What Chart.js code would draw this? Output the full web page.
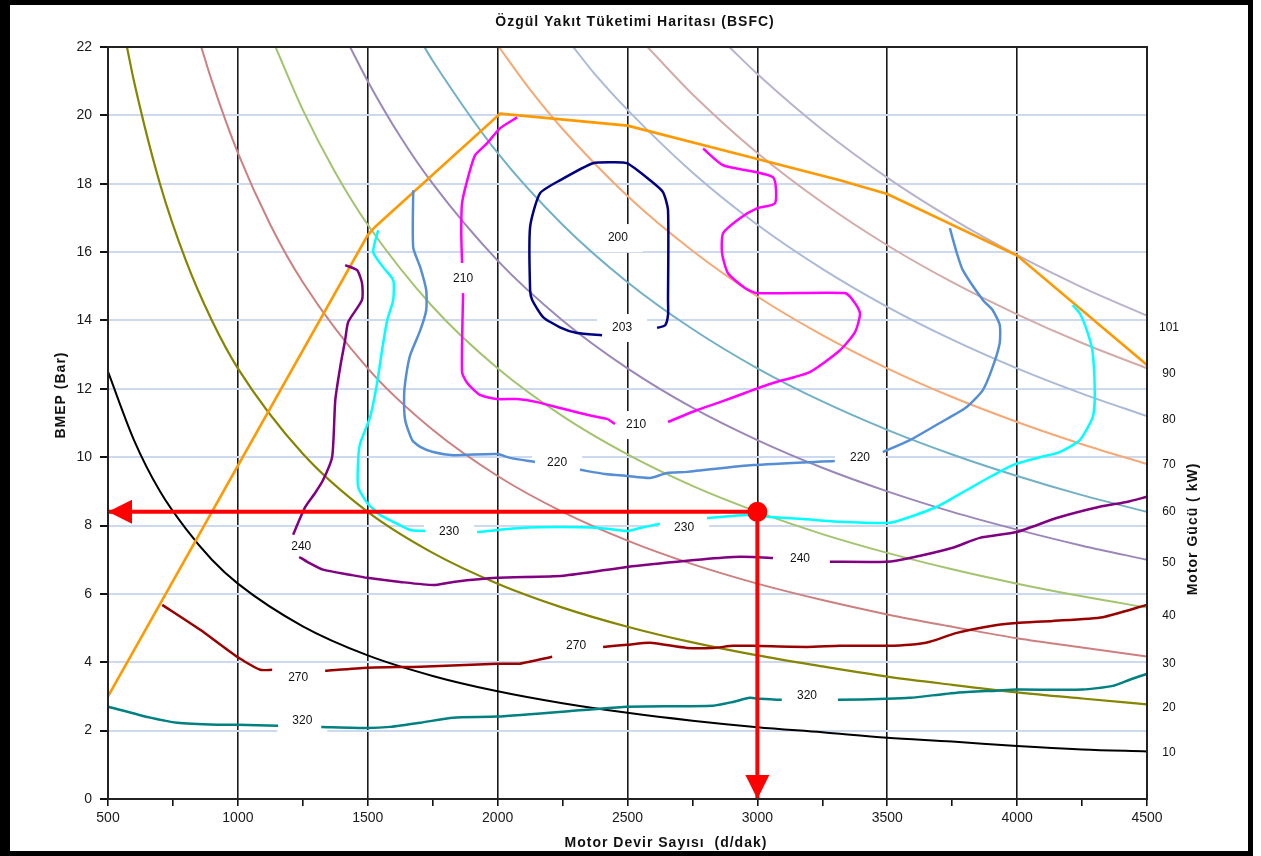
<!DOCTYPE html>
<html>
<head>
<meta charset="utf-8">
<script src="https://cdn.jsdelivr.net/npm/chart.js@4.4.1/dist/chart.umd.min.js"></script>
<style>
  html, body { margin: 0; padding: 0; background: #fff; }
  #frame { position: absolute; left: 0; top: 0; width: 1238px; height: 846px;
           border-style: solid; border-color: #000; border-width: 5px 5px 5px 10px; background: #fff; }
  canvas { display: block; }
</style>
</head>
<body>
<div id="frame"><canvas id="c" width="1238" height="846"></canvas></div>
<script>
// ---------- texts ----------
const chartTitle = 'Özgül Yakıt Tüketimi Haritası (BSFC)';
const xTitle = 'Motor Devir Sayısı  (d/dak)';
const yTitle = 'BMEP (Bar)';
const rightTitle = 'Motor Gücü ( kW)';

// ---------- iso-power curves: [rpm, BMEP bar] ----------
const kw10  = [[500,12.5],[600,10.5],[700,9.0],[800,7.9],[900,7.0],[1000,6.3],[1250,5.05],[1500,4.2],[1750,3.6],[2000,3.15],[2250,2.8],[2500,2.52],[2750,2.29],[3000,2.1],[3250,1.95],[3500,1.79],[3750,1.68],[4000,1.55],[4250,1.45],[4500,1.39]];
const kw20  = [[573,22],[600,21.0],[700,18.0],[800,15.75],[900,14.0],[1000,12.6],[1250,10.1],[1500,8.4],[1750,7.2],[2000,6.3],[2250,5.6],[2500,5.04],[2750,4.58],[3000,4.2],[3250,3.88],[3500,3.58],[3750,3.34],[4000,3.12],[4250,2.94],[4500,2.77]];
const kw30  = [[859,22],[900,21.0],[1000,18.9],[1125,16.8],[1250,15.12],[1500,12.6],[1750,10.8],[2000,9.45],[2250,8.4],[2500,7.56],[2750,6.87],[3000,6.3],[3250,5.82],[3500,5.4],[3750,5.04],[4000,4.7],[4250,4.43],[4500,4.17]];
const kw40  = [[1145,22],[1250,20.16],[1375,18.33],[1500,16.8],[1750,14.4],[2000,12.6],[2250,11.2],[2500,10.08],[2750,9.16],[3000,8.4],[3250,7.75],[3500,7.2],[3750,6.72],[4000,6.3],[4250,5.93],[4500,5.6]];
const kw50  = [[1432,22],[1500,21.0],[1625,19.38],[1750,18.0],[2000,15.75],[2250,14.0],[2500,12.6],[2750,11.45],[3000,10.5],[3250,9.69],[3500,9.0],[3750,8.4],[4000,7.88],[4250,7.41],[4500,7.0]];
const kw60  = [[1718,22],[1750,21.6],[2000,18.9],[2250,16.8],[2500,15.12],[2750,13.75],[3000,12.6],[3250,11.63],[3500,10.8],[3750,10.08],[4000,9.45],[4250,8.89],[4500,8.4]];
const kw70  = [[2005,22],[2125,20.75],[2250,19.6],[2500,17.64],[2750,16.04],[3000,14.7],[3250,13.57],[3500,12.6],[3750,11.76],[4000,11.03],[4250,10.38],[4500,9.8]];
const kw80  = [[2291,22],[2375,21.2],[2500,20.16],[2750,18.33],[3000,16.8],[3250,15.51],[3500,14.4],[3750,13.44],[4000,12.6],[4250,11.86],[4500,11.2]];
const kw90  = [[2577,22],[2750,20.62],[3000,18.9],[3250,17.45],[3500,16.2],[3750,15.12],[4000,14.18],[4250,13.34],[4500,12.6]];
const kw101 = [[2892,22],[3000,21.21],[3250,19.58],[3500,18.18],[3750,16.97],[4000,15.91],[4250,14.97],[4500,14.14]];

// right-hand power labels (kW) and the BMEP level where each is written
const powerLabels = ['10','20','30','40','50','60','70','80','90','101'];
const powerLabelY = [1.35, 2.67, 3.96, 5.36, 6.91, 8.4, 9.77, 11.09, 12.45, 13.78];

// ---------- full-load curve ----------
const fullLoad = [[500,3.0],[1500,16.5],[1530,16.75],[2010,20.05],[2500,19.7],[2970,18.78],[3318,18.1],[3500,17.7],[4000,15.9],[4500,12.7]];

// ---------- BSFC contours (g/kWh): segments split where labels sit ----------
const bsfc200 = [
  [[2402,13.57],[2306,13.63],[2240,13.8],[2175,14.1],[2133,14.6],[2125,14.9],[2125,16.73],[2163,17.72],[2240,18.1],[2367,18.6],[2440,18.63],[2498,18.6],[2587,18.1],[2637,17.75],[2656,17.22],[2656,14.6],[2656,14.16],[2645,13.86],[2614,13.78]]
];
const bsfc210 = [
  [[2075,19.94],[2009,19.62],[1959,19.18],[1913,18.83],[1883,18.1],[1863,17.43],[1860,16.55],[1863,15.68]],
  [[1867,14.8],[1863,12.49],[1883,12.17],[1932,11.82],[1998,11.7],[2075,11.7],[2152,11.61],[2240,11.44],[2344,11.24],[2421,11.12],[2452,10.97]],
  [[2656,11.03],[2768,11.38],[2856,11.61],[2960,11.9],[3060,12.17],[3202,12.49],[3318,13.13],[3376,13.66],[3395,14.21],[3367,14.6],[3337,14.8],[2998,14.8],[2952,14.95],[2887,15.38],[2864,15.97],[2868,16.55],[2933,16.99],[2998,17.28],[3068,17.43],[3060,18.19],[2868,18.54],[2791,19.03]]
];
const bsfc220 = [
  [[1675,17.81],[1675,16.14],[1702,15.56],[1725,14.89],[1725,14.3],[1702,13.71],[1663,12.98],[1648,12.4],[1640,11.82],[1644,11.09],[1671,10.5],[1702,10.3],[1752,10.15],[1829,10.06],[1998,10.09],[2048,9.98],[2144,9.86]],
  [[2317,9.63],[2413,9.51],[2498,9.45],[2587,9.39],[2652,9.54],[2729,9.57],[2983,9.77],[3298,9.89]],
  [[3483,10.15],[3587,10.5],[3702,11.0],[3806,11.47],[3868,11.96],[3906,12.64],[3933,13.34],[3933,13.87],[3906,14.3],[3868,14.6],[3791,15.47],[3768,15.97],[3741,16.7]]
];
const bsfc230 = [
  [[1540,16.64],[1521,16.0],[1559,15.56],[1598,15.18],[1598,14.6],[1575,14.01],[1555,13.13],[1536,12.17],[1509,11.17],[1471,10.41],[1463,9.92],[1463,9.13],[1498,8.66],[1548,8.31],[1598,8.11],[1663,7.87],[1721,7.84]],
  [[1921,7.81],[2086,7.93],[2240,7.96],[2394,7.93],[2498,7.84],[2548,7.93],[2625,8.05]],
  [[2806,8.22],[2960,8.31],[3048,8.25],[3175,8.19],[3318,8.11],[3510,8.08],[3575,8.22],[3691,8.55],[3806,9.04],[3895,9.42],[3983,9.77],[4087,10.0],[4164,10.15],[4241,10.5],[4291,11.17],[4299,11.76],[4291,13.05],[4272,13.63],[4241,14.21],[4214,14.45]]
];
const bsfc240 = [
  [[1413,15.62],[1459,15.47],[1478,15.09],[1478,14.6],[1425,13.96],[1413,13.43],[1394,12.64],[1375,11.67],[1363,10.01],[1328,9.33],[1298,8.96],[1259,8.54],[1232,8.08],[1213,7.73]],
  [[1236,7.08],[1267,6.94],[1328,6.71],[1432,6.56],[1498,6.47],[1625,6.35],[1752,6.26],[1829,6.35],[1998,6.47],[2252,6.53],[2498,6.79],[2729,6.97],[2906,7.08],[2983,7.08],[3060,7.05]],
  [[3279,6.94],[3498,6.94],[3587,7.05],[3752,7.35],[3856,7.64],[3998,7.81],[4152,8.22],[4318,8.55],[4422,8.69],[4499,8.84]]
];
const bsfc270 = [
  [[709,5.68],[855,4.95],[997,4.16],[1086,3.78],[1132,3.78]],
  [[1336,3.75],[1498,3.84],[1702,3.87],[1998,3.96],[2086,3.96],[2210,4.16]],
  [[2406,4.45],[2498,4.51],[2587,4.57],[2729,4.42],[2829,4.42],[2906,4.48],[2983,4.48],[3191,4.45],[3318,4.48],[3498,4.48],[3587,4.51],[3664,4.6],[3768,4.86],[3922,5.09],[3998,5.15],[4137,5.21],[4330,5.32],[4499,5.68]]
];
const bsfc320 = [
  [[501,2.7],[663,2.38],[767,2.23],[921,2.17],[998,2.17],[1155,2.14]],
  [[1321,2.11],[1498,2.08],[1586,2.11],[1702,2.23],[1829,2.38],[1998,2.41],[2344,2.61],[2498,2.7],[2829,2.73],[2906,2.84],[2971,2.96],[3010,2.93],[3094,2.9]],
  [[3310,2.9],[3498,2.93],[3587,2.96],[3768,3.11],[3922,3.17],[3998,3.2],[4252,3.2],[4368,3.31],[4433,3.49],[4499,3.66]]
];

// contour labels and where they are written (rpm, bar)
const contourLabels = ['200','203','210','210','220','220','230','230','240','240','270','270','320','320'];
const contourLabelX = [2463,2479,1867,2533,2229,3395,1813,2718,1244,3164,1232,2302,1248,3191];
const contourLabelY = [16.41,13.78,15.21,10.94,9.83,9.98,7.81,7.93,7.37,7.02,3.55,4.48,2.29,3.02];

// operating point marked by the red arrows
const opSpeed = 3000;
const opBmep = 8.4;

// ---------- helpers ----------
const pts = arr => arr.map(p => ({x: p[0], y: p[1]}));
function joinSegments(segs) {
  const out = [];
  segs.forEach((s, k) => {
    if (k > 0) out.push({x: s[0][0], y: null});
    s.forEach(p => out.push({x: p[0], y: p[1]}));
  });
  return out;
}
const FONT = "'Liberation Sans', Arial, sans-serif";

function powerDs(data, color, w) {
  return { data: pts(data), borderColor: color, borderWidth: w || 2, pointRadius: 0,
           cubicInterpolationMode: 'monotone', order: 4 };
}
function contourDs(segs, color) {
  return { data: joinSegments(segs), borderColor: color, borderWidth: 2.5, pointRadius: 0,
           tension: 0.2, spanGaps: false, order: 2 };
}

const datasets = [
  powerDs(kw10, '#000000', 2),
  powerDs(kw20, '#858500', 2.2),
  powerDs(kw30, '#CD8080'),
  powerDs(kw40, '#A3C46E'),
  powerDs(kw50, '#9B87B9'),
  powerDs(kw60, '#72B0C6'),
  powerDs(kw70, '#F6A875'),
  powerDs(kw80, '#AABAD7'),
  powerDs(kw90, '#D3ABA8'),
  powerDs(kw101, '#BAB2CC'),
  { data: pts(fullLoad), borderColor: '#FF9900', borderWidth: 2.6, pointRadius: 0, tension: 0, order: 3 },
  contourDs(bsfc200, '#000080'),
  contourDs(bsfc210, '#FF00FF'),
  contourDs(bsfc220, '#558ED5'),
  contourDs(bsfc230, '#00FFFF'),
  contourDs(bsfc240, '#800080'),
  contourDs(bsfc270, '#990000'),
  contourDs(bsfc320, '#008080'),
  { data: [{x: opSpeed, y: opBmep}, {x: 500, y: opBmep}], borderColor: '#FF0000', borderWidth: 4,
    pointRadius: 0, tension: 0, order: 1, arrow: true },
  { data: [{x: opSpeed, y: opBmep}, {x: opSpeed, y: 0}], borderColor: '#FF0000', borderWidth: 4,
    pointRadius: 0, tension: 0, order: 1, arrow: true },
  { data: [{x: opSpeed, y: opBmep}], showLine: false, pointRadius: 10, pointBackgroundColor: '#FF0000',
    pointBorderColor: '#FF0000', pointBorderWidth: 0, order: 0 }
];

function boldText(ctx, text, x, y, rot) {
  ctx.save();
  ctx.fillStyle = '#111';
  ctx.font = 'bold 14px ' + FONT;
  try { ctx.letterSpacing = '1px'; } catch (e) {}
  ctx.textAlign = 'center';
  ctx.textBaseline = 'middle';
  ctx.translate(x, y);
  if (rot) ctx.rotate(rot);
  ctx.fillText(text, 0, 0);
  ctx.restore();
}

const overlay = {
  id: 'overlay',
  beforeDatasetsDraw(chart) {
    const {ctx, scales: {x, y}} = chart;
    ctx.save();
    ctx.fillStyle = '#ffffff';
    contourLabels.forEach((t, i) => {
      const px = x.getPixelForValue(contourLabelX[i]);
      const py = y.getPixelForValue(contourLabelY[i]);
      ctx.fillRect(px - 25, py - 14, 50, 28);
    });
    ctx.restore();
  },
  afterDatasetsDraw(chart) {
    const {ctx, chartArea: a, scales: {x, y}} = chart;
    ctx.save();
    // plot frame
    ctx.strokeStyle = '#222';
    ctx.lineWidth = 2;
    ctx.strokeRect(a.left, a.top, a.right - a.left, a.bottom - a.top);
    // arrow heads
    chart.data.datasets.forEach((ds, i) => {
      if (!ds.arrow) return;
      const el = chart.getDatasetMeta(i).data;
      const p0 = el[el.length - 2], p1 = el[el.length - 1];
      const ang = Math.atan2(p1.y - p0.y, p1.x - p0.x);
      const L = 24, W = 12;
      const bx = p1.x - L * Math.cos(ang), by = p1.y - L * Math.sin(ang);
      ctx.fillStyle = '#FF0000';
      ctx.beginPath();
      ctx.moveTo(p1.x, p1.y);
      ctx.lineTo(bx + W * Math.sin(ang), by - W * Math.cos(ang));
      ctx.lineTo(bx - W * Math.sin(ang), by + W * Math.cos(ang));
      ctx.closePath();
      ctx.fill();
    });
    // contour labels
    ctx.fillStyle = '#111';
    ctx.font = '12px ' + FONT;
    ctx.textAlign = 'center';
    ctx.textBaseline = 'middle';
    contourLabels.forEach((t, i) => {
      ctx.fillText(t, x.getPixelForValue(contourLabelX[i]), y.getPixelForValue(contourLabelY[i]));
    });
    // power labels on the right
    powerLabels.forEach((t, i) => {
      ctx.fillText(t, a.right + 22, y.getPixelForValue(powerLabelY[i]));
    });
    ctx.restore();
  },
  afterDraw(chart) {
    const {ctx} = chart;
    boldText(ctx, chartTitle, 625, 17, 0);
    boldText(ctx, xTitle, 656, 838, 0);
    boldText(ctx, yTitle, 51, 390, -Math.PI / 2);
    boldText(ctx, rightTitle, 1183, 524, -Math.PI / 2);
  }
};

new Chart(document.getElementById('c'), {
  type: 'line',
  data: { datasets },
  options: {
    responsive: false,
    animation: false,
    events: [],
    layout: { padding: { left: 0, right: 101, top: 42, bottom: 0 } },
    plugins: { legend: { display: false }, tooltip: { enabled: false } },
    scales: {
      x: {
        type: 'linear', min: 500, max: 4500,
        afterFit: s => { s.height = 52; },
        ticks: {
          stepSize: 250, autoSkip: false, maxRotation: 0, padding: 4,
          color: '#1a1a1a', font: { family: FONT, size: 14 },
          callback: v => (v % 500 === 0 ? String(v) : '')
        },
        grid: {
          color: c => (c.tick && c.tick.value % 500 === 0 ? '#1a1a1a' : 'rgba(0,0,0,0)'),
          lineWidth: 1.6, tickColor: '#111', tickLength: 7, drawTicks: true
        },
        border: { color: '#111', width: 2 }
      },
      y: {
        type: 'linear', min: 0, max: 22,
        afterFit: s => { s.width = 98; },
        ticks: { stepSize: 2, padding: 8, color: '#1a1a1a', font: { family: FONT, size: 14 } },
        grid: { color: '#CCD9EF', lineWidth: 2, tickColor: '#111', tickLength: 8 },
        border: { color: '#111', width: 2 }
      }
    }
  },
  plugins: [overlay]
});
</script>
</body>
</html>
